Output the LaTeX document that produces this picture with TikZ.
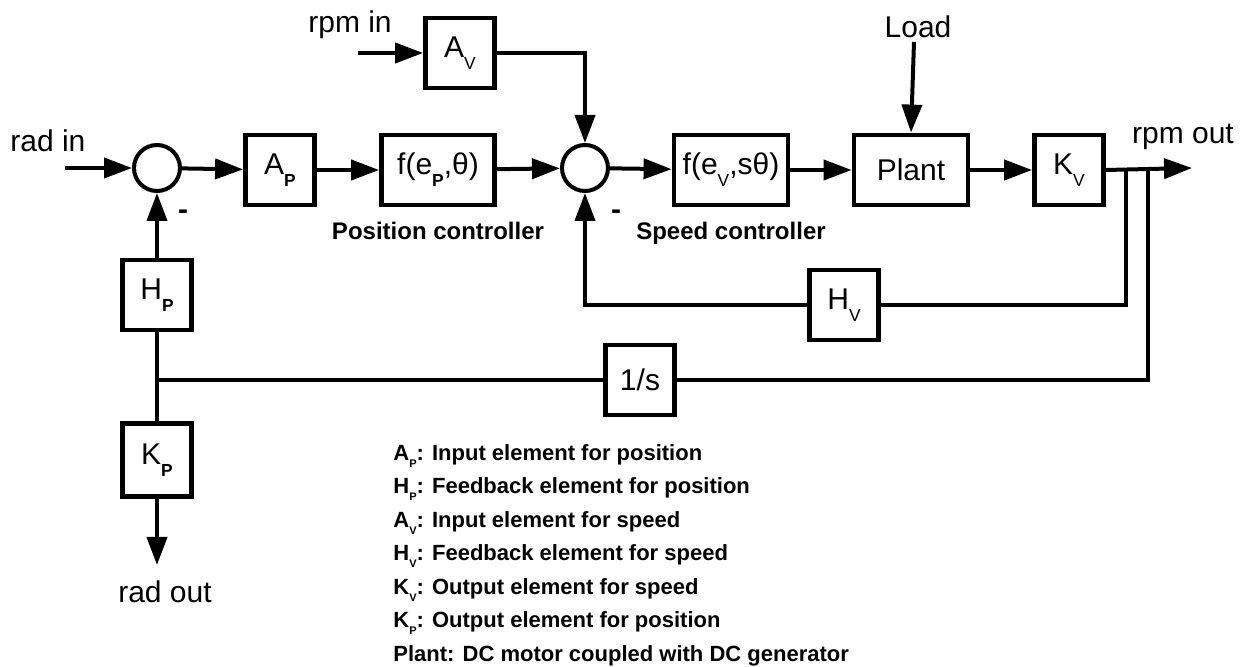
\documentclass[tikz,border=0pt]{standalone}
\usepackage{fontspec}
\setmainfont{Liberation Sans}
\usetikzlibrary{arrows.meta,positioning}
\newcommand{\idx}[1]{\raisebox{-0.75ex}{\scalebox{0.58}{#1}}}
\newcommand{\nidx}[1]{\raisebox{-0.6ex}{\scalebox{0.5}{#1}}}

\begin{document}
\begin{tikzpicture}[
  x=0.5pt, y=-0.5pt,
  font=\fontsize{15}{18}\selectfont,
  blk/.style={draw, line width=2.4pt, inner sep=0pt, minimum width=34.5pt, minimum height=35pt},
  sum/.style={draw, circle, line width=2pt, inner sep=0pt, minimum size=23pt},
  lbl/.style={inner sep=0pt},
  ctl/.style={inner sep=0pt, font=\fontsize{12}{14}\selectfont\bfseries},
  note/.style={align=left, inner sep=0pt, font=\fontsize{11}{16.75}\selectfont\bfseries},
  arrow/.style={-{Triangle[length=14pt, width=10pt]}, line width=2pt},
  line/.style={line width=2pt}
]
\useasboundingbox (0,0) rectangle (1247,667);

% forward path
\node[sum] (sum1) at (157,168) {};
\node[blk] (Ap) at (280,170) {A\idx{\bfseries P}};
\node[blk, minimum width=56.5pt] (fpos) at (438,170) {f(e\idx{\bfseries P},θ)};
\node[sum] (sum2) at (585,168) {};
\node[blk, minimum width=57pt] (fspd) at (731,170) {f(e\idx{V},sθ)};
\node[blk, minimum width=57pt] (plant) at (911,170) {Plant};
\node[blk] (Kv) at (1069,170) {K\idx{V}};

% speed input
\node[blk] (Av) at (460,53) {A\idx{V}};
\node[lbl] (rpmin) at (350,25) {rpm in};
\coordinate (rpmsrc) at (358,53);

% feedback blocks
\node[blk] (Hv) at (844,305) {H\idx{V}};
\node[blk] (integ) at (640,380) {1/s};
\node[blk] (Hp) at (157,295) {H\idx{\bfseries P}};
\node[blk, minimum height=36.5pt] (Kp) at (157,460) {K\idx{\bfseries P}};

% free ends and branch points
\node[lbl, anchor=west] (radin) at (10,141) {rad in};
\coordinate (radsrc) at (65,168);
\node[lbl] (load) at (918,27) {Load};
\coordinate (loadsrc) at (914,42);
\node[lbl] (rpmout) at (1183,137) {rpm out};
\coordinate (rpmend) at (1192,168);
\coordinate (tapv) at (1126,168);
\coordinate (tapp) at (1148,168);
\coordinate (jn) at (157,380);
\node[lbl] (radout) at (165,592) {rad out};
\coordinate (radend) at (157,565);

\node[ctl, below=7pt of fpos] (posctl) {Position controller};
\node[ctl, below=7pt of fspd] (spdctl) {Speed controller};
\node[lbl, font=\fontsize{15}{18}\selectfont\bfseries] (m1) at (183,215) {-};
\node[lbl, font=\fontsize{15}{18}\selectfont\bfseries] (m2) at (616,215) {-};

\draw[arrow] (radsrc) -- (sum1);
\draw[arrow] (sum1) -- (Ap);
\draw[arrow] (Ap) -- (fpos);
\draw[arrow] (fpos) -- (sum2);
\draw[arrow] (sum2) -- (fspd);
\draw[arrow] (fspd) -- (plant);
\draw[arrow] (plant) -- (Kv);
\draw[arrow] (Kv.east) -- (rpmend);
\draw[arrow] (rpmsrc) -- (Av);
\draw[arrow] (Av.east) -| (sum2.north);
\draw[arrow] (loadsrc) -- (plant.north);
\draw[line] (tapv) |- (Hv.east);
\draw[arrow] (Hv.west) -| (sum2.south);
\draw[line] (tapp) |- (integ.east);
\draw[line] (integ.west) -- (jn);
\draw[line] (jn) -- (Hp.south);
\draw[arrow] (Hp.north) -- (sum1.south);
\draw[line] (jn) -- (Kp.north);
\draw[arrow] (Kp.south) -- (radend);

\node[note, anchor=north west] (legend) at (393,444) {
  A\nidx{P}: Input element for position\\
  H\nidx{P}: Feedback element for position\\
  A\nidx{V}: Input element for speed\\
  H\nidx{V}: Feedback element for speed\\
  K\nidx{V}: Output element for speed\\
  K\nidx{P}: Output element for position\\
  Plant: DC motor coupled with DC generator
};

\end{tikzpicture}
\end{document}
